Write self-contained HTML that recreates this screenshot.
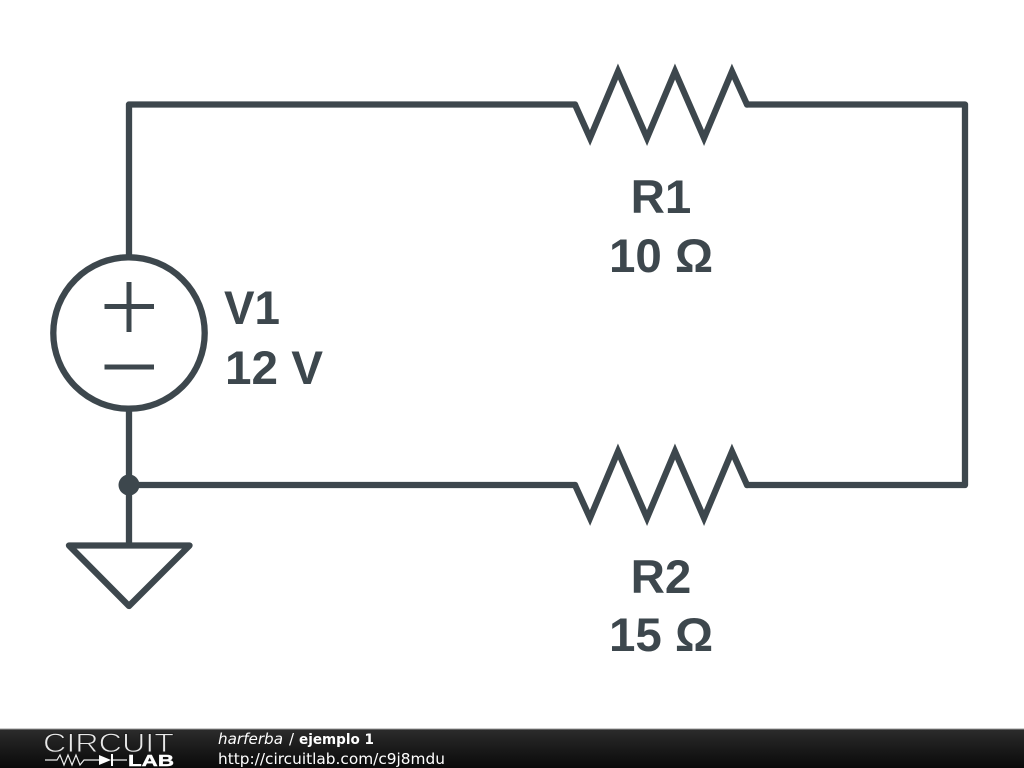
<!DOCTYPE html>
<html><head><meta charset="utf-8"><style>
html,body{margin:0;padding:0;background:#fff;width:1024px;height:768px;overflow:hidden}
svg{display:block}
</style></head><body>
<svg width="1024" height="768" viewBox="0 0 1024 768" xmlns="http://www.w3.org/2000/svg">
<defs><linearGradient id="g" x1="0" y1="0" x2="0" y2="1"><stop offset="0" stop-color="#2c2c2c"/><stop offset="0.5" stop-color="#1a1a1a"/><stop offset="1" stop-color="#0a0a0a"/></linearGradient></defs>
<rect width="1024" height="768" fill="#fff"/>
<g fill="none" stroke="#3d474d" stroke-width="6.3" stroke-linecap="round">
<path stroke-linejoin="round" d="M129 255V104.5H575M747 104.5H965V485H747M575 485H129"/>
<path stroke-linejoin="miter" stroke-miterlimit="10" d="M575 104.5L590 138L618 71.5L647 138L675 71.5L704 138L732 71.5L747 104.5"/>
<path stroke-linejoin="miter" stroke-miterlimit="10" d="M747 485L732 451.5L704 518L675 451.5L647 518L618 451.5L590 518L575 485"/>
<circle cx="129" cy="333" r="75.7"/>
<path d="M129 410V545" stroke-linecap="butt"/>
<path d="M69 545.5H189.5L129 606Z" stroke-linejoin="round"/>
<path d="M129 282V332M104.5 306.5H154M104.5 367H154" stroke-width="5" stroke-linecap="butt"/>
</g>
<circle cx="129" cy="485" r="10.5" fill="#3d474d"/>
<g font-family="'Liberation Sans',sans-serif" font-weight="700" font-size="47.5" fill="#3d474d">
<text x="661" y="213" text-anchor="middle">R1</text>
<text x="661" y="272" text-anchor="middle">10 Ω</text>
<text x="661" y="593" text-anchor="middle">R2</text>
<text x="661" y="651" text-anchor="middle">15 Ω</text>
<text x="224" y="324" textLength="56" lengthAdjust="spacingAndGlyphs">V1</text>
<text x="225" y="384" textLength="98" lengthAdjust="spacingAndGlyphs">12 V</text>
</g>
<rect y="729" width="1024" height="39" fill="url(#g)"/>
<rect y="728.5" width="1024" height="1" fill="#999"/>
<text x="43" y="752" font-family="'Liberation Sans',sans-serif" font-size="27" fill="#e8e8e8" stroke="#1f1f1f" stroke-width="0.9" textLength="131" lengthAdjust="spacingAndGlyphs">CIRCUIT</text>
<path d="M45 760H57L60 755L64 765L68 755L72 765L76 755L80 765L84 760H99M113 760H127" fill="none" stroke="#eee" stroke-width="1.2"/>
<path d="M99 755L111 760L99 765Z" fill="#fff"/><rect x="111" y="754" width="2" height="12" fill="#fff"/>
<text x="128" y="766" font-family="'Liberation Sans',sans-serif" font-weight="700" font-size="16" fill="#fff" stroke="#fff" stroke-width="0.4" textLength="46" lengthAdjust="spacingAndGlyphs">LAB</text>
<g font-family="'DejaVu Sans',sans-serif" fill="#fff">
<text x="218" y="744" font-size="15" font-style="italic" textLength="65" lengthAdjust="spacingAndGlyphs">harferba</text>
<text x="289" y="744" font-size="15">/</text>
<text x="299" y="744" font-size="14.5" font-weight="700" textLength="75" lengthAdjust="spacingAndGlyphs">ejemplo 1</text>
<text x="218" y="764" font-size="15.35">http://circuitlab.com/c9j8mdu</text>
</g>
</svg>
</body></html>
